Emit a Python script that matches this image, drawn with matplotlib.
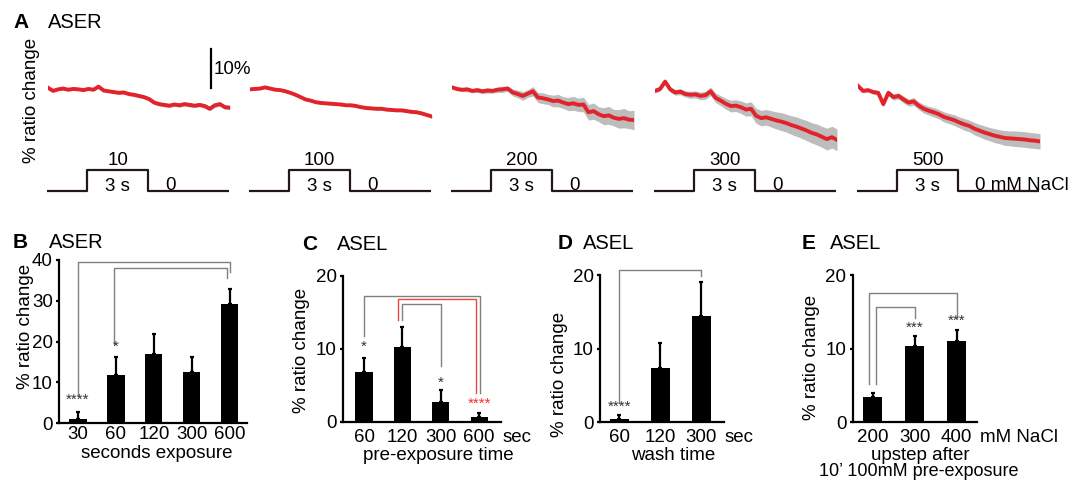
import numpy as np
import matplotlib
matplotlib.use('Agg')
import matplotlib.pyplot as plt

plt.rcParams['font.family'] = ['Liberation Sans', 'DejaVu Sans']

# ---------------- Panel A data (% ratio change, sampled every 0.25 s) ----------------
trace_dt = 0.25
stim_conc = ['10', '100', '200', '300', '500']
stim_time = [0, 2, 2, 5, 5, 9]
stim_level = [0, 0, 1, 1, 0, 0]

trace_10 = [0.0, -0.8, -0.4, -0.2, -0.5, -0.3, -0.4, -0.6, -0.3, -0.5, 0.3, -0.7, -0.9,
            -1.1, -1.3, -1.2, -1.6, -1.8, -2.1, -2.4, -2.9, -3.8, -4.2, -4.4, -4.6, -4.3,
            -4.5, -4.2, -4.4, -4.6, -4.4, -4.7, -5.4, -4.5, -4.2, -5.0, -5.1]
trace_100 = [-0.4, -0.3, -0.2, 0.1, -0.2, -0.5, -0.6, -0.9, -1.3, -1.8, -2.4, -3.0, -3.3,
             -3.7, -3.9, -4.0, -4.1, -4.2, -4.3, -4.5, -4.5, -4.7, -5.0, -5.2, -5.3, -5.4,
             -5.4, -5.6, -5.7, -5.8, -5.8, -6.0, -6.2, -6.3, -6.6, -7.0, -7.4]
trace_200 = [0.1, -0.3, -0.5, -0.4, -0.8, -0.6, -0.9, -0.7, -0.8, -0.5, -0.4, -0.2, -1.2,
             -1.6, -2.1, -1.5, -0.9, -2.5, -2.7, -3.0, -3.4, -3.3, -3.8, -4.2, -4.0, -4.4,
             -4.3, -6.3, -6.0, -6.8, -7.3, -7.1, -7.7, -8.0, -7.8, -8.2, -8.3]
trace_300 = [-0.8, -0.3, 1.6, -0.4, -1.2, -1.0, -1.6, -1.8, -1.7, -2.1, -1.9, -0.9, -2.6,
             -3.3, -4.1, -4.7, -4.6, -5.0, -5.6, -5.4, -7.2, -7.8, -7.6, -8.0, -8.4, -8.7,
             -9.1, -9.6, -10.0, -10.5, -11.0, -11.6, -12.0, -12.6, -13.2, -12.7, -13.4]
trace_500 = [0.5, -0.8, -0.6, -1.1, -1.3, -4.2, -1.3, -2.4, -2.1, -3.0, -3.8, -3.5, -4.6,
             -5.4, -5.9, -6.3, -6.8, -7.5, -7.9, -8.3, -8.9, -9.4, -9.8, -10.5, -11.0, -11.5,
             -11.9, -12.3, -12.6, -12.9, -13.0, -13.1, -13.2, -13.3, -13.5, -13.6, -13.8]

sem_10 = [0.3, 0.3, 0.3, 0.35, 0.3, 0.35, 0.3, 0.3, 0.35, 0.3, 0.35, 0.3, 0.35, 0.4, 0.35,
          0.4, 0.4, 0.45, 0.4, 0.45, 0.5, 0.5, 0.45, 0.5, 0.5, 0.45, 0.5, 0.5, 0.55, 0.5,
          0.5, 0.55, 0.5, 0.55, 0.5, 0.5, 0.5]
sem_100 = [0.25, 0.25, 0.3, 0.25, 0.3, 0.25, 0.3, 0.3, 0.25, 0.3, 0.3, 0.3, 0.3, 0.35, 0.3,
           0.3, 0.35, 0.3, 0.35, 0.3, 0.35, 0.35, 0.3, 0.35, 0.35, 0.3, 0.35, 0.35, 0.4,
           0.35, 0.35, 0.4, 0.35, 0.4, 0.4, 0.35, 0.4]
sem_200 = [0.4, 0.5, 0.5, 0.6, 0.5, 0.6, 0.6, 0.7, 0.6, 0.7, 0.8, 0.7, 0.9, 1.0, 1.1, 1.0,
           1.2, 1.3, 1.4, 1.3, 1.5, 1.6, 1.5, 1.7, 1.8, 1.7, 1.9, 2.0, 2.1, 1.9, 2.2, 2.3,
           2.1, 2.4, 2.5, 2.3, 2.5]
sem_300 = [0.5, 0.6, 0.6, 0.7, 0.7, 0.8, 0.8, 0.9, 0.9, 1.0, 1.0, 1.1, 1.2, 1.3, 1.4, 1.5,
           1.5, 1.6, 1.7, 1.8, 1.9, 2.0, 2.0, 2.1, 2.2, 2.3, 2.3, 2.4, 2.5, 2.5, 2.6, 2.6,
           2.7, 2.7, 2.8, 2.8, 2.8]
sem_500 = [0.4, 0.5, 0.5, 0.6, 0.6, 0.7, 0.7, 0.8, 0.8, 0.9, 0.9, 1.0, 1.0, 1.1, 1.1, 1.2,
           1.2, 1.3, 1.3, 1.4, 1.4, 1.5, 1.5, 1.6, 1.6, 1.7, 1.7, 1.8, 1.8, 1.9, 1.9, 2.0,
           2.0, 2.0, 2.0, 2.0, 2.0]

traces = [trace_10, trace_100, trace_200, trace_300, trace_500]
sems = [sem_10, sem_100, sem_200, sem_300, sem_500]

# ---------------- Panels B-E data ----------------
b_labels = ['30', '60', '120', '300', '600']
b_vals = [1.0, 11.9, 17.0, 12.5, 29.2]
b_errs = [1.7, 4.2, 4.9, 3.7, 3.8]

c_labels = ['60', '120', '300', '600']
c_vals = [6.9, 10.3, 2.8, 0.7]
c_errs = [1.8, 2.7, 1.6, 0.5]

d_labels = ['60', '120', '300']
d_vals = [0.5, 7.4, 14.5]
d_errs = [0.5, 3.3, 4.5]

e_labels = ['200', '300', '400']
e_vals = [3.4, 10.4, 11.0]
e_errs = [0.6, 1.3, 1.6]

# significance marks: (x, y, text, color)
STAR_C = '#333333'
b_stars = [(0, 5.8, '****', STAR_C), (1, 18.7, '*', STAR_C)]
c_stars = [(0, 10.3, '*', STAR_C), (2, 5.4, '*', STAR_C), (3, 2.5, '****', '#ff2a2a')]
d_stars = [(0, 2.1, '****', STAR_C)]
e_stars = [(1, 12.8, '***', STAR_C), (2, 13.8, '***', STAR_C)]

# brackets: (x_left, x_right, y_top, y_left_end, y_right_end, color)
b_brackets = [(0.0, 4.0, 39.4, 6.8, 37.1, '#808080'),
              (0.94, 3.93, 38.1, 19.5, 35.5, '#808080')]
c_brackets = [(0.0, 3.02, 17.2, 11.8, 4.0, '#808080'),
              (0.89, 2.93, 16.8, 14.0, 4.0, '#ee4444'),
              (1.0, 2.0, 16.1, 14.0, 7.6, '#808080')]
d_brackets = [(0.0, 2.0, 20.7, 2.6, 19.8, '#808080')]
e_brackets = [(-0.1, 2.0, 17.6, 5.2, 14.2, '#808080'),
              (0.08, 1.0, 15.6, 5.2, 14.1, '#808080')]

W, H = 1075, 484
fig = plt.figure(figsize=(W / 100, H / 100), dpi=100)

FS = 13.5
TFS = 14.5
STIM_C = '#231815'
TRACE_C = '#e3232b'
BAND_C = '#bdbdbd'


def fx(px):
    return px / W


def fy(py):
    return 1 - py / H


# ---------------- Panel A ----------------
trace_left = [48, 250, 452, 655, 858]
trace_w = 182
for i, (tr, se) in enumerate(zip(traces, sems)):
    tr = np.array(tr)
    se = np.array(se)
    t = np.arange(len(tr)) * trace_dt
    ax = fig.add_axes([fx(trace_left[i]), fy(150), fx(trace_w), 105 / H])
    ax.fill_between(t, tr - se, tr + se, color=BAND_C, lw=0)
    ax.plot(t, tr, color=TRACE_C, lw=2.8)
    ax.set_xlim(0, 9)
    ax.set_ylim(-16, 11)
    ax.axis('off')
    if i == 0:
        ax.plot([8.06, 8.06], [0, 10], color='k', lw=1.6, clip_on=False)
        ax.text(8.2, 4.6, '10%', fontsize=FS, va='center', ha='left')
    sax = fig.add_axes([fx(trace_left[i] - 1), fy(200), fx(trace_w), 50 / H])
    sax.plot(stim_time, stim_level, color=STIM_C, lw=1.6)
    sax.set_xlim(0, 9)
    sax.set_ylim(-0.4286, 1.952)
    sax.axis('off')
    sax.text(3.5, 1.45, stim_conc[i], fontsize=FS, ha='center', va='center')
    sax.text(3.5, 0.22, '3 s', fontsize=FS, ha='center', va='center')
    sax.text(5.85, 0.26, '0 mM NaCl' if i == 4 else '0', fontsize=FS, ha='left', va='center')

fig.text(fx(13), fy(22), 'A', fontsize=15, fontweight='bold', ha='left', va='center')
fig.text(fx(48), fy(22), 'ASER', fontsize=TFS, ha='left', va='center')
fig.text(fx(31), fy(100), '% ratio change', fontsize=FS, rotation=90, ha='center', va='center')


# ---------------- Bar panels ----------------
def bar_panel(px_left, px_right, px_top, px_bottom, xlim, ylim, yticks, labels, vals, errs,
              stars, brackets, tick_pad):
    ax = fig.add_axes([fx(px_left), fy(px_bottom), fx(px_right - px_left), (px_bottom - px_top) / H])
    x = np.arange(len(vals))
    ax.bar(x, vals, width=0.45, color='k', zorder=2)
    ax.errorbar(x, vals, yerr=[np.zeros(len(vals)), errs], fmt='none', ecolor='k',
                elinewidth=1.6, capsize=1.6, capthick=1.6, zorder=2)
    ax.set_xlim(*xlim)
    ax.set_ylim(*ylim)
    ax.set_yticks(yticks)
    ax.set_xticks(x)
    ax.set_xticklabels(labels)
    for s in ['top', 'right']:
        ax.spines[s].set_visible(False)
    for s in ['left', 'bottom']:
        ax.spines[s].set_linewidth(1.6)
    ax.tick_params(axis='y', length=2.5, width=1.6, pad=2, labelsize=FS)
    ax.tick_params(axis='x', length=0, pad=tick_pad, labelsize=FS)
    for (sx, sy, txt, col) in stars:
        ax.text(sx, sy, txt, ha='center', va='center', fontsize=11, color=col)
    for (x1, x2, yt, y1, y2, col) in brackets:
        ax.plot([x1, x1, x2, x2], [y1, yt, yt, y2], color=col, lw=1.0, clip_on=False, zorder=1)
    return ax


axB = bar_panel(59, 247, 260, 423, (-0.5, 4.45), (0, 40), [0, 10, 20, 30, 40],
                b_labels, b_vals, b_errs, b_stars, b_brackets, 2)
fig.text(fx(13), fy(242), 'B', fontsize=15, fontweight='bold', ha='left', va='center')
fig.text(fx(49), fy(242), 'ASER', fontsize=TFS, ha='left', va='center')
fig.text(fx(25), fy(326), '% ratio change', fontsize=FS, rotation=90, ha='center', va='center')
fig.text(fx(157), fy(453), 'seconds exposure', fontsize=FS, ha='center', va='center')

axC = bar_panel(343, 501, 275.7, 422, (-0.55, 3.57), (0, 20), [0, 10, 20],
                c_labels, c_vals, c_errs, c_stars, c_brackets, 5)
axC.text(3.6, -0.103, 'sec', transform=axC.get_xaxis_transform(), fontsize=FS,
         ha='left', va='center')
fig.text(fx(302), fy(244), 'C', fontsize=15, fontweight='bold', ha='left', va='center')
fig.text(fx(337), fy(244), 'ASEL', fontsize=TFS, ha='left', va='center')
fig.text(fx(302), fy(350), '% ratio change', fontsize=FS, rotation=90, ha='center', va='center')
fig.text(fx(438), fy(456), 'pre-exposure time', fontsize=FS, ha='center', va='center')

axD = bar_panel(600, 724, 275, 422.3, (-0.47, 2.55), (0, 20), [0, 10, 20],
                d_labels, d_vals, d_errs, d_stars, d_brackets, 5)
axD.text(2.57, -0.103, 'sec', transform=axD.get_xaxis_transform(), fontsize=FS,
         ha='left', va='center')
fig.text(fx(558), fy(243), 'D', fontsize=15, fontweight='bold', ha='left', va='center')
fig.text(fx(583), fy(243), 'ASEL', fontsize=TFS, ha='left', va='center')
fig.text(fx(559), fy(374), '% ratio change', fontsize=FS, rotation=90, ha='center', va='center')
fig.text(fx(673), fy(456), 'wash time', fontsize=FS, ha='center', va='center')

axE = bar_panel(852.7, 976.7, 275, 422.3, (-0.48, 2.48), (0, 20), [0, 10, 20],
                e_labels, e_vals, e_errs, e_stars, e_brackets, 5)
axE.text(2.55, -0.103, 'mM NaCl', transform=axE.get_xaxis_transform(), fontsize=FS,
         ha='left', va='center')
fig.text(fx(802), fy(243), 'E', fontsize=15, fontweight='bold', ha='left', va='center')
fig.text(fx(830), fy(243), 'ASEL', fontsize=TFS, ha='left', va='center')
fig.text(fx(812), fy(357), '% ratio change', fontsize=FS, rotation=90, ha='center', va='center')
fig.text(fx(920), fy(455), 'upstep after', fontsize=FS, ha='center', va='center')
fig.text(fx(919), fy(472), '10\u2019 100mM pre-exposure', fontsize=13, ha='center', va='center')

fig.savefig('out.png', dpi=100)
